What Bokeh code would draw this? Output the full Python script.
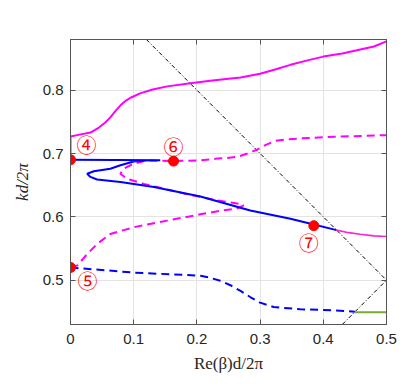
from bokeh.plotting import figure
from bokeh.models import LinearAxis, Range1d, FixedTicker, ColumnDataSource, CustomJSTickFormatter
from bokeh.embed import file_html
from bokeh.resources import INLINE
from bokeh.core.properties import value

# ---- data ----
mag_solid_x = [0, 0, 0.0105, 0.0316, 0.045, 0.055, 0.063, 0.071, 0.079, 0.087, 0.095, 0.11, 0.13, 0.153,
               0.19, 0.221, 0.25, 0.269, 0.30, 0.325, 0.348, 0.375, 0.40, 0.43, 0.453, 0.48, 0.5]
mag_solid_y = [0.69, 0.727, 0.729, 0.733, 0.741, 0.749, 0.757, 0.767, 0.776, 0.783, 0.788, 0.795, 0.801,
               0.806, 0.811, 0.815, 0.818, 0.820, 0.826, 0.833, 0.840, 0.847, 0.853, 0.858, 0.863,
               0.869, 0.877]

mag_dash_x = [0, 0.0105, 0.0263, 0.042, 0.063, 0.1, 0.153, 0.2055, 0.24, 0.263, 0.274, 0.269, 0.232,
              0.179, 0.137, 0.116, 0.0896, 0.079, 0.084, 0.1, 0.121, 0.163, 0.2055, 0.232, 0.2477,
              0.265, 0.28, 0.295, 0.31, 0.325, 0.345, 0.3636, 0.416, 0.5]
mag_dash_y = [0.52, 0.523, 0.541, 0.557, 0.573, 0.5835, 0.594, 0.604, 0.610, 0.613, 0.618, 0.620, 0.626,
              0.637, 0.647, 0.652, 0.660, 0.668, 0.676, 0.684, 0.689, 0.688, 0.689, 0.692, 0.693,
              0.695, 0.700, 0.706, 0.714, 0.720, 0.7225, 0.7238, 0.7263, 0.729]

blue_x = [0, 0.07, 0.142, 0.12, 0.1, 0.079, 0.063, 0.0369, 0.0264, 0.0316, 0.042, 0.079, 0.132,
          0.2055, 0.2845, 0.348, 0.385, 0.421]
blue_y = [0.69, 0.6898, 0.6893, 0.6888, 0.6875, 0.6814, 0.676, 0.672, 0.668, 0.663, 0.659, 0.655, 0.647,
          0.632, 0.610, 0.597, 0.588, 0.579]

mag_tail_x = [0.421, 0.44, 0.4585, 0.48, 0.5]
mag_tail_y = [0.579, 0.575, 0.5725, 0.570, 0.569]

blue_dash_x = [0, 0.1, 0.2055, 0.22, 0.237, 0.253, 0.269, 0.285, 0.30, 0.3214, 0.3636, 0.416, 0.45]
blue_dash_y = [0.52, 0.512, 0.507, 0.504, 0.499, 0.492, 0.483, 0.473, 0.4645, 0.4576, 0.454, 0.4524, 0.4502]

green_x = [0.45, 0.5]
green_y = [0.4495, 0.4495]

light1_x = [0.1, 0.5]
light1_y = [0.9, 0.5]
light2_x = [0.4, 0.5]
light2_y = [0.4, 0.5]

pts_x = [0, 0, 0.163, 0.385]
pts_y = [0.69, 0.52, 0.688, 0.586]
pts_label = ["④", "⑤", "⑥", "⑦"]
label_dx = [16, 17, 0, -5]
label_dy = [-15, 13, -15, 17]

x_ticks = [0, 0.1, 0.2, 0.3, 0.4, 0.5]
y_ticks = [0.5, 0.6, 0.7, 0.8]

# ---- figure ----
p = figure(width=407, height=380, output_backend="svg", toolbar_location=None,
           x_range=Range1d(0, 0.5), y_range=Range1d(0.43, 0.88),
           min_border_left=70, min_border_right=21, min_border_top=39, min_border_bottom=56)
p.background_fill_color = "white"
p.border_fill_color = "white"
p.outline_line_color = "#555555"
p.outline_line_width = 1

for ax in (p.xaxis[0], p.yaxis[0]):
    ax.major_tick_in = 5
    ax.major_tick_out = 0
    ax.minor_tick_in = 0
    ax.minor_tick_out = 0
    ax.axis_line_color = "#555555"
    ax.major_tick_line_color = "#555555"
    ax.major_label_text_font = "Liberation Sans"
    ax.major_label_text_font_size = "15px"
    ax.major_label_text_color = "#262626"
    ax.axis_label_text_font = "Liberation Serif"
    ax.axis_label_text_font_size = "17px"
    ax.axis_label_text_color = "#262626"

p.xaxis[0].ticker = FixedTicker(ticks=x_ticks)
p.yaxis[0].ticker = FixedTicker(ticks=y_ticks)
p.xaxis[0].major_label_standoff = 9
p.yaxis[0].major_label_standoff = 7
p.xaxis[0].axis_label = "Re(β)d/2π"
p.yaxis[0].axis_label = "kd/2π"
p.xaxis[0].axis_label_text_font_style = "normal"
p.yaxis[0].axis_label_text_font_style = "italic"
p.xaxis[0].axis_label_standoff = 7
p.yaxis[0].axis_label_standoff = 8

for loc in ("above", "right"):
    ax = LinearAxis(ticker=FixedTicker(ticks=x_ticks if loc == "above" else y_ticks),
                    formatter=CustomJSTickFormatter(code="return ''"))
    ax.major_tick_in = 5
    ax.major_tick_out = 0
    ax.minor_tick_in = 0
    ax.minor_tick_out = 0
    ax.major_label_text_font_size = "1px"
    ax.major_label_standoff = 0
    ax.axis_line_color = "#555555"
    ax.major_tick_line_color = "#555555"
    p.add_layout(ax, loc)

p.grid.grid_line_color = "#e3e3e3"
p.grid.grid_line_width = 1
p.xgrid.ticker = FixedTicker(ticks=x_ticks)
p.ygrid.ticker = FixedTicker(ticks=y_ticks)

# light lines
p.line(light1_x, light1_y, line_color="black", line_width=1, line_dash="4 2 1 2")
p.line(light2_x, light2_y, line_color="black", line_width=1, line_dash="4 2 1 2")

# curves
p.line(mag_solid_x, mag_solid_y, line_color="#ff00ff", line_width=2)
p.line(mag_dash_x, mag_dash_y, line_color="#ff00ff", line_width=2, line_dash="8 5")
p.line(blue_x, blue_y, line_color="#0000ff", line_width=2)
p.line(mag_tail_x, mag_tail_y, line_color="#ff22cc", line_width=1.6)
p.line(blue_dash_x, blue_dash_y, line_color="#0000ff", line_width=2, line_dash="8 5")
p.line(green_x, green_y, line_color="#77ac30", line_width=2)

src = ColumnDataSource(dict(x=pts_x, y=pts_y, t=pts_label, dx=label_dx, dy=label_dy))
p.scatter("x", "y", source=src, size=10, fill_color="#ff0000", line_color="#ff0000")
p.text("x", "y", text="t", source=src, x_offset="dx", y_offset="dy",
       text_font=value("Noto Sans CJK JP"), text_font_size="20px", text_color="#ff0000",
       text_align="center", text_baseline="middle")

open("out.html", "w").write(file_html(p, INLINE))
